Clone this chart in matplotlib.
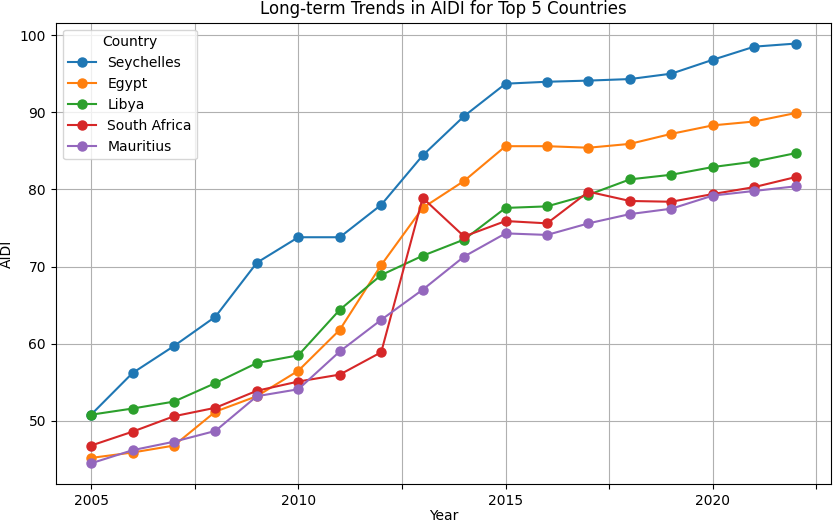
import numpy as np
import matplotlib.pyplot as plt
from matplotlib.ticker import MultipleLocator, FuncFormatter

years = list(range(2005, 2023))
countries = ['Seychelles', 'Egypt', 'Libya', 'South Africa', 'Mauritius']

seychelles = [50.8, 56.2, 59.7, 63.5, 70.5, 73.8, 73.8, 78.0, 84.4, 89.5,
              93.7, 93.95, 94.1, 94.3, 95.0, 96.8, 98.5, 98.9]
egypt = [45.2, 45.9, 46.8, 51.2, 53.2, 56.5, 61.8, 70.2, 77.6, 81.1,
         85.6, 85.6, 85.4, 85.9, 87.2, 88.3, 88.8, 89.9]
libya = [50.8, 51.6, 52.5, 54.9, 57.5, 58.5, 64.4, 68.9, 71.4, 73.5,
         77.6, 77.8, 79.3, 81.3, 81.9, 82.9, 83.6, 84.7]
south_africa = [46.8, 48.6, 50.6, 51.7, 53.9, 55.1, 56.0, 58.9, 78.9, 73.9,
                75.9, 75.6, 79.7, 78.5, 78.4, 79.4, 80.3, 81.6]
mauritius = [44.5, 46.2, 47.3, 48.7, 53.2, 54.1, 59.0, 63.1, 67.0, 71.3,
             74.3, 74.1, 75.6, 76.8, 77.5, 79.2, 79.8, 80.4]

series = [seychelles, egypt, libya, south_africa, mauritius]

fig, ax = plt.subplots(figsize=(8.33, 5.25), dpi=100)
for name, vals in zip(countries, series):
    ax.plot(years, vals, marker='o', markersize=6.5, label=name)

ax.xaxis.set_major_locator(MultipleLocator(2.5))
ax.xaxis.set_major_formatter(FuncFormatter(lambda v, p: f'{int(v)}' if v % 5 == 0 else ''))

ax.set_title('Long-term Trends in AIDI for Top 5 Countries')
ax.set_xlabel('Year', labelpad=1)
ax.set_ylabel('AIDI')
ax.legend(title='Country', loc='upper left')
ax.grid(True)

fig.subplots_adjust(left=0.067, right=0.9976, top=0.957, bottom=0.0775)
plt.savefig('out.png', dpi=100)
